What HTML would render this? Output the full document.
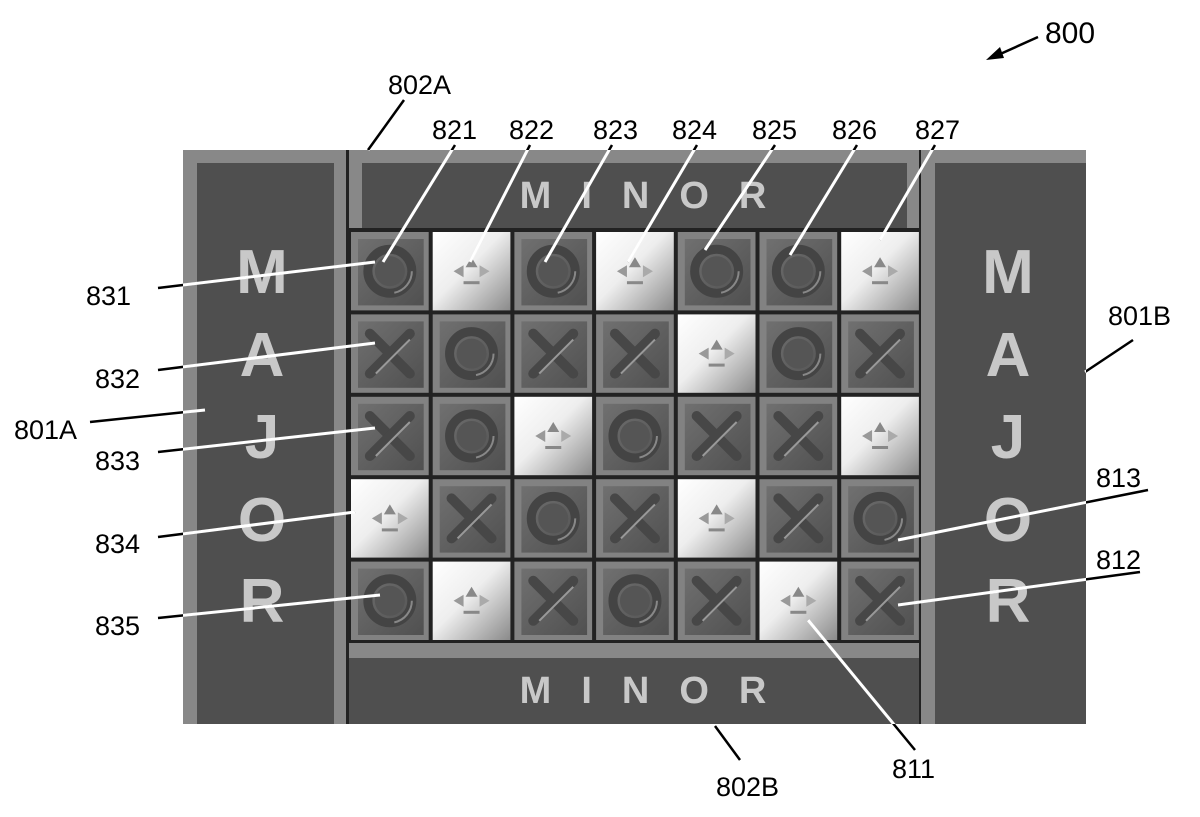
<!DOCTYPE html>
<html><head><meta charset="utf-8"><style>
html,body{margin:0;padding:0;background:#fff;}
svg{display:block;}
text{font-family:"Liberation Sans",sans-serif;}
</style></head><body>
<svg id="s" width="1200" height="817" viewBox="0 0 1200 817" xmlns="http://www.w3.org/2000/svg">
<defs>
<linearGradient id="lt" x1="0" y1="0" x2="1" y2="1">
<stop offset="0" stop-color="#ffffff"/><stop offset="0.45" stop-color="#eeeeee"/><stop offset="1" stop-color="#8a8a8a"/>
</linearGradient>
<linearGradient id="dk" x1="0" y1="0" x2="1" y2="1">
<stop offset="0" stop-color="#707070"/><stop offset="1" stop-color="#505050"/>
</linearGradient>
<clipPath id="bd"><rect x="183" y="150" width="903" height="574"/></clipPath>
</defs>
<rect x="183" y="150" width="903" height="574" fill="#222"/>
<rect x="183" y="150" width="163" height="574" fill="#888"/>
<rect x="197" y="163" width="137" height="561" fill="#4f4f4f"/>
<rect x="921" y="150" width="165" height="574" fill="#888"/>
<rect x="935" y="163" width="151" height="561" fill="#4f4f4f"/>
<rect x="349" y="150" width="570" height="78" fill="#888"/>
<rect x="362" y="163" width="545" height="65" fill="#4f4f4f"/>
<rect x="349" y="643" width="570" height="81" fill="#888"/>
<rect x="349" y="658" width="570" height="66" fill="#4f4f4f"/>
<g font-weight="bold" fill="#c8c8c8" text-anchor="middle">
<text x="658" y="208" font-size="38" letter-spacing="30">MINOR</text>
<text x="658" y="703" font-size="38" letter-spacing="30">MINOR</text>
<g font-size="62">
<text x="262" y="293">M</text><text x="262" y="376">A</text><text x="262" y="458">J</text><text x="262" y="541">O</text><text x="262" y="622">R</text>
<text x="1008" y="293">M</text><text x="1008" y="376">A</text><text x="1008" y="458">J</text><text x="1008" y="541">O</text><text x="1008" y="622">R</text>
</g></g>
<g id="grid"></g>
<g id="leads"></g>
<g font-size="27" fill="#000">
<text x="1045" y="43" font-size="30">800</text>
<text x="388" y="94">802A</text>
<text x="432" y="139">821</text><text x="509" y="139">822</text><text x="593" y="139">823</text><text x="672" y="139">824</text><text x="752" y="139">825</text><text x="832" y="139">826</text><text x="915" y="139">827</text>
<text x="86" y="305">831</text><text x="95" y="388">832</text><text x="14" y="439">801A</text><text x="95" y="470">833</text><text x="95" y="553">834</text><text x="95" y="635">835</text>
<text x="1108" y="325">801B</text><text x="1096" y="487">813</text><text x="1096" y="569">812</text>
<text x="892" y="778">811</text><text x="716" y="796">802B</text>
</g>
<line x1="1038" y1="37" x2="998" y2="55" stroke="#000" stroke-width="2.5"/>
<polygon points="986,60 1000,47 1004,58" fill="#000"/>
</svg>
<script>
var NS="http://www.w3.org/2000/svg",g=document.getElementById("grid");
var L=["OAOAOOA","XOXXAOX","XOAOXXA","AXOXAXO","OAXOXAX"];
function el(t,a,p){var e=document.createElementNS(NS,t);for(var k in a)e.setAttribute(k,a[k]);(p||g).appendChild(e);return e;}
var x0=349,y0=230,w=81.7,h=82.4;
for(var r=0;r<5;r++)for(var c=0;c<7;c++){
 var x=x0+c*w+2,y=y0+r*h+2,ww=w-4,hh=h-4,t=L[r][c],cx=x+ww/2,cy=y+hh/2;
 if(t=="A"){
  el("rect",{x:x,y:y,width:ww,height:hh,fill:"url(#lt)"});
  el("polygon",{points:(cx-6)+","+(cy-4)+" "+cx+","+(cy-14)+" "+(cx+6)+","+(cy-4),fill:"#888"});
  el("polygon",{points:(cx-18)+","+cy+" "+(cx-8)+","+(cy-6)+" "+(cx-8)+","+(cy+6),fill:"#999"});
  el("polygon",{points:(cx+18)+","+cy+" "+(cx+8)+","+(cy-6)+" "+(cx+8)+","+(cy+6),fill:"#aaa"});
  el("rect",{x:cx-8,y:cy+10,width:16,height:3,fill:"#888"});
 } else {
  el("rect",{x:x,y:y,width:ww,height:hh,fill:"#828282"});
  el("rect",{x:x+7,y:y+7,width:ww-12,height:hh-12,fill:"url(#dk)"});
  if(t=="O"){
   el("circle",{cx:cx,cy:cy,r:22,fill:"none",stroke:"#444","stroke-width":9});
   el("circle",{cx:cx,cy:cy,r:22,fill:"none",stroke:"#888","stroke-width":2,"stroke-dasharray":"30 200"});
   el("circle",{cx:cx,cy:cy,r:15,fill:"#555"});
  } else {
   el("line",{x1:cx-20,y1:cy-20,x2:cx+20,y2:cy+20,stroke:"#474747","stroke-width":10,"stroke-linecap":"round"});
   el("line",{x1:cx+20,y1:cy-20,x2:cx-20,y2:cy+20,stroke:"#474747","stroke-width":10,"stroke-linecap":"round"});
   el("line",{x1:cx-14,y1:cy+20,x2:cx+20,y2:cy-14,stroke:"#999","stroke-width":2});
  }
 }
}
var ld=document.getElementById("leads");
var lines=[[404,100,368,150],[455,145,383,262],[530,145,470,262],[612,145,545,262],[697,145,628,262],[775,145,705,250],[857,145,790,255],[935,145,880,240],
[158,288,375,262],[158,370,375,343],[90,422,205,410],[158,452,375,428],[158,537,355,512],[158,618,380,595],
[1133,340,1085,372],[1148,490,898,540],[1140,572,898,605],[915,750,808,620],[740,760,715,726]];
lines.forEach(function(l){
 el("line",{x1:l[0],y1:l[1],x2:l[2],y2:l[3],stroke:"#000","stroke-width":2.5},ld);
 el("line",{x1:l[0],y1:l[1],x2:l[2],y2:l[3],stroke:"#fff","stroke-width":3,"clip-path":"url(#bd)"},ld);
});
</script>
</body></html>
